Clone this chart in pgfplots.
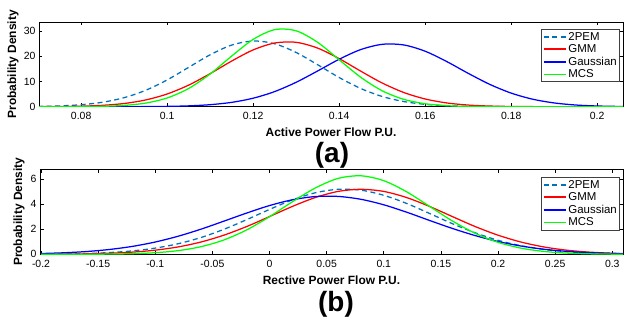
\documentclass[border=0pt]{standalone}
\usepackage{pgfplots}
\usepackage{pgfplotstable}
\pgfplotsset{compat=1.18}
\usepackage{fontspec}
\setmainfont{Liberation Sans}
\definecolor{pemblue}{rgb}{0,0.447,0.741}
\definecolor{mred}{rgb}{1,0,0}
\definecolor{mblue}{rgb}{0,0,1}
\definecolor{mgreen}{rgb}{0,1,0}

\pgfplotstableread{
x      pem    gmm    gau    mcs
0.070  0.11   0.02   0      0
0.075  0.31   0.07   0      0
0.080  0.79   0.21   0      0.04
0.085  1.77   0.55   0      0.15
0.090  3.58   1.27   0.01   0.51
0.095  6.50   2.67   0.04   1.43
0.100  10.62  5.04   0.13   3.46
0.105  15.61  8.56   0.33   7.23
0.110  20.60  13.12  0.80   12.98
0.115  24.44  18.10  1.72   20.07
0.120  26.06  22.53  3.37   26.70
0.125  24.97  25.26  6.00   30.56
0.130  21.50  25.53  9.69   30.10
0.135  16.64  23.24  14.18  25.52
0.140  11.57  19.07  18.82  18.61
0.145  7.23   14.11  22.65  11.69
0.150  4.06   9.40   24.74  6.31
0.155  2.05   5.65   24.50  2.93
0.160  0.93   3.06   22.00  1.17
0.165  0.38   1.49   17.92  0.40
0.170  0.14   0.65   13.24  0.12
0.175  0.05   0.26   8.87   0.03
0.180  0.01   0.09   5.39   0.01
0.185  0      0.03   2.97   0
0.190  0      0.01   1.49   0
0.195  0      0      0.67   0
0.200  0      0      0.28   0
0.205  0      0      0.10   0
0.206  0      0      0.08   0
}\activetab

\pgfplotstableread{
x      pem    gmm    gau    mcs
-0.20  0.012  0.007  0.063  0
-0.18  0.030  0.017  0.122  0.002
-0.16  0.066  0.039  0.223  0.006
-0.14  0.139  0.085  0.387  0.018
-0.12  0.272  0.174  0.633  0.050
-0.10  0.495  0.331  0.983  0.128
-0.08  0.844  0.590  1.445  0.293
-0.06  1.344  0.983  2.01   0.609
-0.04  1.997  1.529  2.65   1.145
-0.02  2.77   2.22   3.30   1.95
0.00   3.59   3.02   3.90   3.01
0.02   4.35   3.83   4.36   4.20
0.04   4.92   4.54   4.62   5.30
0.06   5.20   5.03   4.63   6.07
0.08   5.13   5.20   4.40   6.28
0.10   4.72   5.03   3.96   5.89
0.12   4.07   4.54   3.37   5.00
0.14   3.27   3.83   2.71   3.84
0.16   2.45   3.02   2.07   2.67
0.18   1.72   2.22   1.497  1.68
0.20   1.12   1.529  1.024  0.958
0.22   0.688  0.983  0.664  0.494
0.24   0.393  0.590  0.407  0.231
0.26   0.209  0.331  0.236  0.098
0.28   0.104  0.174  0.130  0.037
0.30   0.048  0.085  0.068  0.013
0.31   0.032  0.058  0.048  0.007
}\reactab

\pgfplotsset{myax/.style={
  scale only axis, anchor=south west,
  /pgf/number format/assume math mode=true,
  ymin=0,
  tick label style={font=\fontsize{10.5}{12}\selectfont},
  xticklabel style={yshift=-2bp},
  every axis y label/.style={at={(rel axis cs:0,0.5)}, rotate=90, anchor=center,
    font=\bfseries\fontsize{12}{14}\selectfont},
  every axis x label/.style={at={(rel axis cs:0.5,0)}, anchor=center, yshift=-26bp,
    font=\bfseries\fontsize{12}{14}\selectfont},
  axis line style={line width=0.8bp},
  every tick/.style={black, line width=0.6bp},
  major tick length=3.5bp,
  legend style={font=\fontsize{11.5}{13}\selectfont, draw=black!75, line width=0.6bp,
    inner xsep=1bp, inner ysep=0.5bp, row sep=-1bp, anchor=north east},
  legend cell align=left,
  legend image code/.code={\draw[#1, line width=1.7bp] plot coordinates {(0bp,0bp) (22bp,0bp)};},
  every axis plot/.append style={line width=1.25bp, smooth},
}}

\begin{document}
\begin{tikzpicture}
\useasboundingbox (0,0) rectangle (625bp,320bp);

\begin{axis}[myax,
  at={(39bp,213.3bp)}, width=584bp, height=84.7bp,
  xmin=0.0702, xmax=0.206, ymax=33.6,
  xtick={0.08,0.1,0.12,0.14,0.16,0.18,0.2},
  xticklabels={0.08,0.1,0.12,0.14,0.16,0.18,0.2},
  ytick={0,10,20,30},
  xlabel={Active Power Flow P.U.},
  ylabel={Probability Density},
  ylabel style={yshift=26bp},
  legend style={at={(rel axis cs:0.995,0.914)}},
]
\addplot[pemblue, dash pattern=on 5bp off 3.5bp] table[x=x,y=pem] {\activetab};
\addlegendentry{2PEM}
\addplot[mred] table[x=x,y=gmm] {\activetab};
\addlegendentry{GMM}
\addplot[mblue] table[x=x,y=gau] {\activetab};
\addlegendentry{Gaussian}
\addplot[mgreen] table[x=x,y=mcs] {\activetab};
\addlegendentry{MCS}
\end{axis}

\begin{axis}[myax,
  at={(40bp,65.7bp)}, width=583bp, height=85bp,
  xmin=-0.2009, xmax=0.3094, ymax=6.8,
  xtick={-0.2,-0.15,-0.1,-0.05,0,0.05,0.1,0.15,0.2,0.25,0.3},
  xticklabels={-0.2,-0.15,-0.1,-0.05,0,0.05,0.1,0.15,0.2,0.25,0.3},
  ytick={0,2,4,6},
  yticklabels={0,2,4,6},
  xlabel={Rective Power Flow P.U.},
  ylabel={Probability Density},
  ylabel style={yshift=21bp},
  legend style={at={(rel axis cs:0.995,0.906)}},
]
\addplot[pemblue, dash pattern=on 5bp off 3.5bp] table[x=x,y=pem] {\reactab};
\addlegendentry{2PEM}
\addplot[mred] table[x=x,y=gmm] {\reactab};
\addlegendentry{GMM}
\addplot[mblue] table[x=x,y=gau] {\reactab};
\addlegendentry{Gaussian}
\addplot[mgreen] table[x=x,y=mcs] {\reactab};
\addlegendentry{MCS}
\end{axis}

\node[font=\bfseries\fontsize{28}{30}\selectfont, inner sep=0] at (332bp,165bp) {(a)};
\node[font=\bfseries\fontsize{28}{30}\selectfont, inner sep=0] at (336bp,16bp) {(b)};
\end{tikzpicture}
\end{document}
